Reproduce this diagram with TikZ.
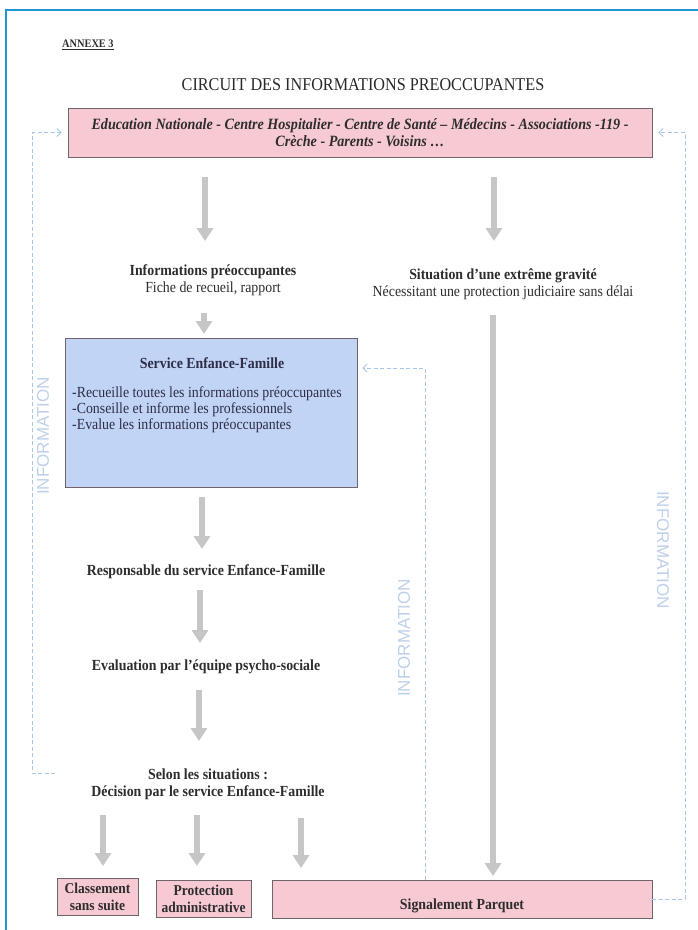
\documentclass[tikz,border=0pt]{standalone}
\usepackage{fontspec}
\setmainfont{Liberation Serif}[FakeStretch=0.9]
\setsansfont{Liberation Sans}
\usetikzlibrary{arrows.meta}
\definecolor{framecol}{RGB}{30,150,210}
\definecolor{pinkfill}{RGB}{247,201,211}
\definecolor{bluefill}{RGB}{193,212,246}
\definecolor{boxline}{RGB}{110,100,105}
\definecolor{txtcol}{RGB}{45,45,45}
\definecolor{navytxt}{RGB}{45,45,70}
\definecolor{arrowgray}{RGB}{198,198,198}
\definecolor{dashcol}{RGB}{168,198,232}
\definecolor{infocol}{RGB}{190,208,234}
\begin{document}
\begin{tikzpicture}[x=1pt,y=-1pt,
  pinkbox/.style={draw=boxline, line width=0.8pt, fill=pinkfill, inner sep=0pt},
  bluebox/.style={draw=boxline, line width=0.8pt, fill=bluefill, inner sep=0pt},
  txt/.style={text=txtcol, inner sep=0pt, align=center, font=\fontsize{15.4}{17}\selectfont},
  btxt/.style={txt, font=\bfseries\fontsize{15.4}{17}\selectfont},
  garrow/.style={draw=arrowgray, line width=6.5pt, -{Triangle[width=16pt,length=13pt]}},
  infoline/.style={draw=dashcol, line width=0.9pt, dash pattern=on 4pt off 2.5pt},
  infotip/.style={-{Straight Barb[length=4pt,width=8pt,line width=0.9pt]}},
  infotxt/.style={text=infocol, font=\sffamily\fontsize{17}{17}\selectfont, inner sep=0pt}
]
\useasboundingbox (0,0) rectangle (697,930);
\fill[white] (0,0) rectangle (697,930);
\draw[framecol, line width=1.6pt] (6,940) -- (6,10) -- (710,10);

\node[anchor=west, text=txtcol, inner sep=0pt, font=\bfseries\fontsize{11.5}{13}\selectfont] (annexe) at (62,45) {\underline{ANNEXE 3}};
\node[text=txtcol!90!black, inner sep=0pt, font=\fontsize{18}{20}\selectfont] (title) at (363,85) {CIRCUIT DES INFORMATIONS PREOCCUPANTES};

\node[pinkbox, minimum width=584pt, minimum height=49pt, align=center, text=txtcol,
  font=\bfseries\itshape\fontsize{15.7}{17}\selectfont] (src) at (360,132.5)
  {Education Nationale - Centre Hospitalier - Centre de Santé -- Médecins - Associations -119 -\\Crèche - Parents - Voisins \dots};

\node[txt] (ip) at (213,280.5) {\textbf{Informations préoccupantes}\\Fiche de recueil, rapport};
\node[txt] (sg) at (503,284.5) {\textbf{Situation d’une extrême gravité}\\Nécessitant une protection judiciaire sans délai};

\node[bluebox, minimum width=292pt, minimum height=149pt] (sef) at (211,412.5) {};
\node[btxt, text=navytxt] (seft) at (212,363) {Service Enfance-Famille};
\node[txt, text=navytxt, anchor=west, align=left, font=\fontsize{15.4}{16}\selectfont] (sefl) at (72,410) {-Recueille toutes les informations préoccupantes\\-Conseille et informe les professionnels\\-Evalue les informations préoccupantes};

\node[btxt] (resp) at (206,572) {Responsable du service Enfance-Famille};
\node[btxt] (eval) at (206,667) {Evaluation par l’équipe psycho-sociale};
\node[btxt] (selon) at (208,784.5) {Selon les situations :\\Décision par le service Enfance-Famille};

\node[pinkbox, minimum width=81pt, minimum height=37pt, align=center, text=txtcol,
  font=\bfseries\fontsize{15}{17}\selectfont] (cls) at (97.5,896.5) {Classement\\sans suite};
\node[pinkbox, minimum width=95pt, minimum height=37pt, align=center, text=txtcol,
  font=\bfseries\fontsize{15}{17}\selectfont] (prot) at (203.5,898.5) {Protection\\administrative};
\node[pinkbox, minimum width=380pt, minimum height=38pt] (sig) at (462,899) {};
\node[btxt] (sigt) at (462,906) {Signalement Parquet};

% gray arrows
\coordinate (a1s) at (205,177); \coordinate (a1e) at (205,241);
\coordinate (a2s) at (494,177); \coordinate (a2e) at (494,241);
\coordinate (a3s) at (204,313); \coordinate (a3e) at (204,334);
\coordinate (a4s) at (493,315); \coordinate (a4e) at (493,876);
\coordinate (a5s) at (202,497); \coordinate (a5e) at (202,549);
\coordinate (a6s) at (200,590); \coordinate (a6e) at (200,643);
\coordinate (a7s) at (199,690); \coordinate (a7e) at (199,741);
\coordinate (a8s) at (103,815); \coordinate (a8e) at (103,866);
\coordinate (a9s) at (197,815); \coordinate (a9e) at (197,866);
\coordinate (a10s) at (301,818); \coordinate (a10e) at (301,868);
\foreach \i in {1,...,10} { \draw[garrow] (a\i s) -- (a\i e); }

% dashed information lines
\coordinate (lx) at (32,0);
\coordinate (lend) at (55,773);
\coordinate (rx) at (685,0);
\coordinate (mx) at (425,0);
\draw[infoline, infotip] (lend) -- (lend -| lx) -- (lx |- src.west) -- ([xshift=-6pt]src.west);
\draw[infoline, infotip] (sig.east) -- (sig.east -| rx) -- (rx |- src.east) -- ([xshift=6pt]src.east);
\coordinate (my) at (0,368);
\draw[infoline, infotip] (sig.north -| mx) -- (mx |- my) -- ([xshift=5pt]sef.east |- my);

\node[infotxt, rotate=90] (infoL) at (43,436) {INFORMATION};
\node[infotxt, rotate=90] (infoM) at (404,638) {INFORMATION};
\node[infotxt, rotate=-90] (infoR) at (663,550) {INFORMATION};
\end{tikzpicture}
\end{document}
